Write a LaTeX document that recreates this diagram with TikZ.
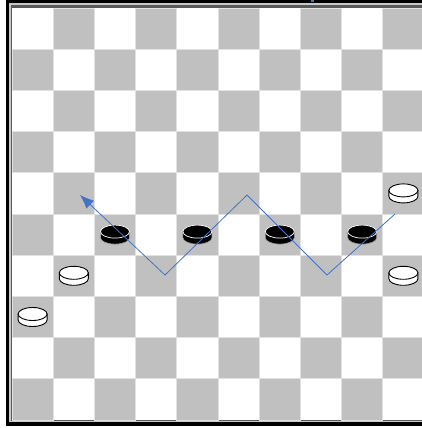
\documentclass[tikz,border=0pt]{standalone}
\usetikzlibrary{arrows.meta}

\definecolor{boardgray}{HTML}{C0C0C0}
\definecolor{gridgray}{HTML}{E2E2E2}
\definecolor{framegray}{HTML}{C8C8C8}
\definecolor{framedark}{HTML}{5A5A5A}
\definecolor{moveblue}{HTML}{4472C4}

\begin{document}
\begin{tikzpicture}[
    x=1pt, y=-1pt,
    darksquare/.style={
        fill=boardgray,
        draw=gridgray,
        line width=0.8pt
    },
    move line/.style={
        -{Latex[length=14pt, width=11pt]},
        line width=0.8pt,
        draw=moveblue
    },
    whiteman/.pic={
        \filldraw[fill=white, draw=black, line width=0.9pt]
            (-14.5,-3) -- (-14.5,3) arc[start angle=180, end angle=360, x radius=14.5pt, y radius=6.5pt]
            -- (14.5,-3) -- cycle;
        \filldraw[fill=white, draw=black, line width=0.9pt]
            (0,-3) ellipse[x radius=14.5pt, y radius=6.5pt];
    },
    blackman/.pic={
        \filldraw[fill=black, draw=black!40, line width=0.6pt]
            (-14.5,-3) -- (-14.5,3) arc[start angle=180, end angle=360, x radius=14.5pt, y radius=6.5pt]
            -- (14.5,-3) -- cycle;
        \filldraw[fill=black, draw=white, line width=0.7pt]
            (0,-3) ellipse[x radius=14.5pt, y radius=6.5pt];
    }
]

    \useasboundingbox (0,0) rectangle (422,428);
    \clip (0,0) rectangle (422,428);

    % --- FRAME ---
    \fill[black] (5.5,-5) rectangle (440,425.5);
    \fill[framegray] (9,3) rectangle (440,422);
    \fill[framedark] (10.5,5) rectangle (440,420.5);
    \fill[white] (12,8) rectangle (440,419.5);

    % --- BOARD ---
    \foreach \r in {0,...,9} {
        \foreach \c in {0,...,9} {
            \pgfmathtruncatemacro\odd{mod(\r+\c,2)}
            \ifnum\odd=1
                \path[darksquare] ({12+41.2*\c},{8+41.2*\r}) rectangle ++(41.2,41.2);
            \fi
        }
    }

    % cut-off mark above the board
    \fill[moveblue] (311,0) rectangle (313.5,2.5);

    % --- BLACK MEN (row 5) ---
    \foreach \c [count=\i] in {2,4,6,8} {
        \pic (black\i) at ({12+41.2*(\c+0.5)},{8+41.2*5.5}) {blackman};
    }

    % --- WHITE MEN ---
    \pic (white1) at ({12+41.2*9.5},{8+41.2*4.5}) {whiteman};
    \pic (white2) at ({12+41.2*9.5},{8+41.2*6.5}) {whiteman};
    \pic (white3) at ({12+41.2*1.5},{8+41.2*6.5}) {whiteman};
    \pic (white4) at ({12+41.2*0.5},{8+41.2*7.5}) {whiteman};

    % --- CAPTURE PATH ---
    \coordinate (m0) at (395,214);
    \coordinate (m1) at (327,275);
    \coordinate (m2) at (247,195);
    \coordinate (m3) at (165,275);
    \coordinate (m4) at (80,195);
    \draw[move line] (m0) -- (m1) -- (m2) -- (m3) -- (m4);

\end{tikzpicture}
\end{document}
